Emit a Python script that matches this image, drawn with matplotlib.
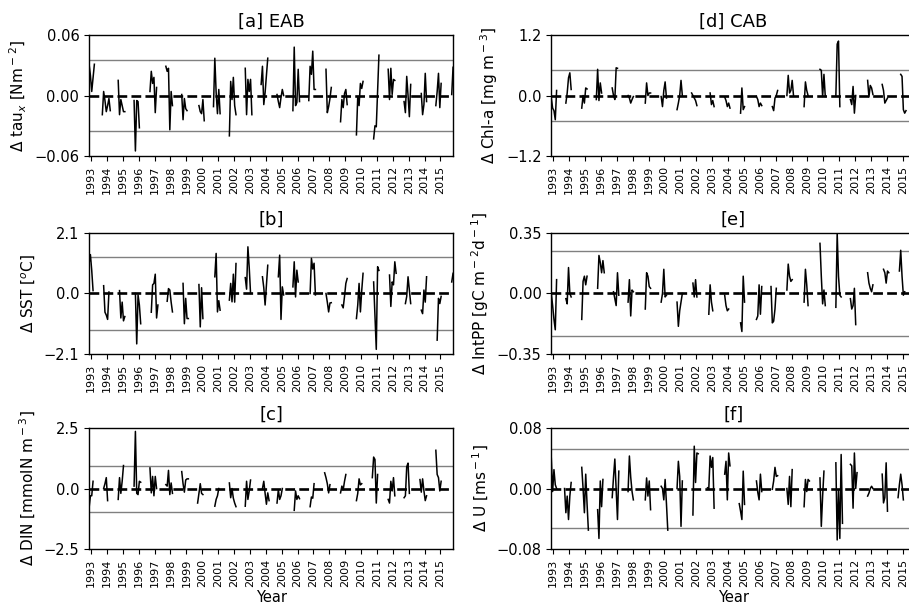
import numpy as np
import matplotlib
matplotlib.use("Agg")
import matplotlib.pyplot as plt

# %% data: monthly anomalies from Jan 1993, given as (start month, values) pieces
years = list(range(1993, 2016))
n_months = 276

tau_x = [(0, [0.031, 0.02, 0.004, 0.018, 0.031]),
         (10, [-0.019, 0.004, -0.005, -0.016, -0.01, -0.003, -0.015]),
         (22, [0.015, -0.019, -0.004, -0.01, -0.016, -0.016]),
         (34, [-0.005, -0.055, -0.005, -0.006, -0.032]),
         (46, [0.004, 0.024, 0.012, 0.018, -0.017, 0.008]),
         (58, [0.029, 0.024, 0.027, -0.034, 0.004, -0.01]),
         (70, [0.001, -0.024, -0.003, -0.013, -0.015]),
         (83, [-0.01, -0.016, -0.018, -0.004, -0.025]),
         (94, [-0.011, 0.037, 0.003, -0.018, 0.006, -0.018]),
         (106, [-0.04, 0.014, -0.004, 0.018, -0.01, -0.019]),
         (118, [0.027, -0.019, 0.016, 0.004, 0.016, -0.019]),
         (130, [0.011, 0.029, -0.009, 0.003, 0.02, 0.037]),
         (142, [0.001, -0.006, -0.012, -0.002, 0.006, 0.0]),
         (154, [-0.015, 0.048, -0.01, -0.007, 0.026, -0.006]),
         (166, [-0.005, 0.029, 0.021, 0.044, 0.006, 0.006]),
         (179, [0.026, -0.017, -0.011, -0.003, 0.008]),
         (190, [-0.026, -0.004, -0.012, 0.002, 0.006, -0.009]),
         (202, [-0.039, -0.001, -0.01, 0.012, 0.007, 0.014]),
         (215, [-0.043, -0.03, -0.031, 0.005, 0.04]),
         (226, [0.026, -0.004, 0.027, 0.001, 0.016, 0.015]),
         (238, [-0.006, -0.017, 0.019, 0.0, -0.021, 0.011]),
         (251, [0.002, -0.019, -0.009, 0.022, -0.006]),
         (262, [-0.01, 0.004, 0.022, -0.012, 0.012]),
         (274, [0.001, 0.028])]

sst = [(0, [1.05, 1.35, 0.8, 0.1]),
       (11, [0.27, -0.65, -0.75, -0.9, 0.05]),
       (23, [0.1, -0.85, -0.3, -0.95, -0.8]),
       (35, [0.0, -1.75, -0.05, -0.4, -1.05]),
       (47, [-0.65, 0.3, 0.35, 0.67, -0.85, -0.4]),
       (59, [-0.27, 0.17, 0.12, -0.3, -0.64]),
       (71, [0.35, -1.05, -0.17, -0.87, -0.87]),
       (83, [0.31, -1.16, 0.2, -0.87]),
       (95, [0.58, 1.39, -0.64, -0.25, -0.58]),
       (106, [-0.23, 0.35, -0.29, 0.67, -0.3, 1.04]),
       (118, [0.55, 0.15, 1.62, 0.9, 0.0]),
       (131, [0.58, 0.2, -0.4, 0.3, 0.98]),
       (143, [0.58, 1.33, -0.9, 0.23, -0.05]),
       (154, [0.23, 1.1, -0.12, 0.81, 0.4]),
       (167, [0.0, 1.22, 0.85, 1.05, -0.05]),
       (179, [0.0, -0.3, -0.64, -0.33, -0.32]),
       (191, [-0.4, -0.5, -0.1, 0.35, 0.52]),
       (202, [-0.87, -0.4, 0.35, -0.64, 0.1, 0.7]),
       (215, [0.4, -0.8, -1.94, 0.93, 0.8]),
       (227, [0.64, -0.45, 0.4, 0.3, 1.1, 0.7]),
       (239, [-0.35, -0.1, 0.58, 0.1, -0.35]),
       (251, [-0.58, -0.7, 0.12, -0.3, 0.58]),
       (263, [-1.62, -0.17, -0.35, -0.1]),
       (274, [0.4, 0.7])]

din = [(0, [-0.8, -0.3, -0.3, 0.3]),
       (11, [0.0, 0.2, 0.45, -0.5]),
       (22, [-0.45, 0.45, -0.2, 0.3, 0.95]),
       (34, [0.1, 2.36, -0.2, -0.25, 0.3, 0.26]),
       (46, [0.85, -0.18, 0.5, -0.3, 0.5, 0.0]),
       (58, [0.16, 0.1, 0.75, -0.25, 0.23, -0.2]),
       (70, [0.7, 0.2, -0.15, 0.35, 0.4, 0.4]),
       (82, [-0.6, -0.2, 0.2, -0.2, -0.25]),
       (95, [-0.73, -0.45, -0.3, 0.0]),
       (106, [0.23, -0.38, 0.0, -0.4, -0.6, -0.75]),
       (118, [-0.73, 0.3, -0.45, -0.1, 0.35]),
       (131, [0.0, 0.3, -0.2, -0.65, -0.18, -0.5]),
       (142, [-0.6, -0.05, -0.45, -0.3, 0.0]),
       (155, [-0.9, -0.1, -0.45, -0.3, -0.42]),
       (167, [-0.75, -0.35, -0.4, 0.2]),
       (178, [0.65, 0.45, 0.2, -0.18, 0.16]),
       (190, [-0.18, 0.1, -0.05, 0.3, 0.58]),
       (202, [-0.5, -0.2, 0.4, 0.15, 0.2]),
       (214, [0.45, 1.3, 1.2, -0.6, 0.58]),
       (226, [-0.45, -0.6, 0.3, -0.1, 0.45, -0.3]),
       (238, [-0.38, -0.3, 0.9, 1.05, -0.2]),
       (250, [0.37, -0.15, 0.4, -0.1, -0.5, -0.3]),
       (262, [1.58, 0.58, 0.45, -0.1, 0.3])]

chl = [(0, [-0.05, -0.25, -0.3, -0.48, 0.1]),
       (11, [-0.15, 0.05, 0.35, 0.45, 0.12]),
       (23, [-0.25, 0.0, -0.15, 0.15, 0.13]),
       (34, [-0.08, 0.52, -0.1, 0.25, 0.05]),
       (46, [0.15, 0.0, -0.08, 0.55, 0.54]),
       (58, [0.0, -0.05, -0.15, -0.08, -0.02]),
       (71, [-0.15, 0.25, 0.0, 0.05, 0.05]),
       (83, [-0.02, -0.22, 0.1, 0.27, -0.05]),
       (95, [-0.28, -0.15, 0.0, 0.3, 0.0]),
       (106, [0.05, 0.0, -0.05, -0.1, -0.2]),
       (120, [0.05, -0.18, -0.1, -0.22]),
       (131, [-0.03, -0.1, -0.22, -0.15, -0.25]),
       (143, [-0.35, 0.15, -0.28, -0.22]),
       (155, [-0.02, -0.08, -0.22, -0.15, -0.2]),
       (167, [-0.22, -0.3, -0.05, 0.0, 0.1]),
       (178, [0.0, 0.4, 0.05, 0.1, 0.3, 0.0]),
       (191, [-0.22, 0.27, 0.1, 0.0]),
       (203, [0.52, 0.5, -0.02, 0.42, -0.02]),
       (215, [0.0, 1.02, 1.08, -0.22]),
       (226, [-0.08, -0.18, 0.18, -0.35, 0.0]),
       (239, [0.3, -0.03, 0.2, 0.15, 0.02]),
       (250, [0.22, 0.1, -0.15, -0.1, -0.05]),
       (264, [0.42, 0.38, -0.28, -0.35, -0.3])]

intpp = [(0, [0.0, -0.07, -0.15, -0.21, 0.08]),
         (11, [-0.03, -0.06, 0.15, 0.0, -0.02]),
         (23, [-0.15, 0.07, 0.1, 0.05, 0.1]),
         (35, [0.03, 0.22, 0.18, 0.12, 0.19, 0.12]),
         (47, [0.01, -0.03, -0.07, 0.12, -0.01]),
         (58, [-0.05, 0.08, -0.13, 0.02, 0.01]),
         (71, [-0.09, 0.12, 0.1, 0.04, 0.03]),
         (83, [-0.05, 0.0, 0.14, -0.02, -0.01]),
         (95, [-0.05, -0.19, -0.1, -0.05, 0.0]),
         (107, [0.06, -0.02, 0.08, -0.02]),
         (119, [-0.12, 0.05, -0.05, -0.1]),
         (131, [-0.01, -0.07, -0.1, -0.09]),
         (143, [-0.17, -0.22, 0.1, -0.05]),
         (155, [-0.15, -0.13, 0.05, -0.12, 0.04]),
         (166, [0.04, -0.17, -0.16, -0.09, 0.03]),
         (178, [0.02, 0.17, 0.1, 0.07, 0.08]),
         (191, [-0.05, 0.14, 0.05, -0.07]),
         (203, [0.29, 0.1, -0.06, 0.02, -0.07]),
         (215, [-0.08, 0.35, 0.1, -0.01, -0.02]),
         (226, [-0.03, -0.09, -0.07, 0.03, -0.18]),
         (239, [0.12, 0.06, 0.03, 0.01, 0.05]),
         (251, [0.14, 0.12, 0.06, 0.13, 0.12]),
         (263, [0.13, 0.25, 0.1, -0.01, 0.01])]

u = [(0, [0.04, -0.004, 0.025, 0.005, 0.0]),
     (10, [0.0, -0.032, -0.01, -0.041, -0.01, 0.008]),
     (23, [0.028, 0.0, -0.032, 0.019, -0.02, -0.055]),
     (35, [-0.028, -0.066, 0.01, -0.024, 0.012]),
     (46, [-0.012, 0.015, 0.039, 0.0, -0.041, 0.023]),
     (58, [-0.004, 0.043, 0.015, -0.004, -0.015]),
     (71, [-0.015, 0.014, -0.01, 0.01, -0.028]),
     (83, [0.003, 0.0, -0.015, 0.012, -0.02, -0.055]),
     (95, [0.0, 0.036, 0.016, -0.05, 0.01]),
     (107, [-0.035, 0.056, 0.008, 0.047, 0.046]),
     (118, [0.001, 0.0, 0.043, 0.028, 0.041, -0.026]),
     (131, [0.019, 0.036, -0.015, 0.047, 0.03]),
     (142, [-0.02, -0.03, -0.041, 0.023, -0.021]),
     (155, [0.01, -0.005, -0.015, 0.019, -0.004]),
     (167, [-0.001, 0.01, 0.028, 0.016, 0.017]),
     (178, [0.0, -0.021, 0.016, -0.024, 0.025]),
     (191, [-0.024, 0.012, -0.004, 0.012, 0.01]),
     (203, [0.014, -0.05, -0.01, 0.023]),
     (215, [0.034, -0.068, -0.002, -0.066, 0.045, -0.046]),
     (226, [0.032, 0.03, -0.026, 0.047, 0.0, 0.021]),
     (239, [-0.01, -0.006, 0.0, 0.003, 0.0]),
     (250, [0.019, -0.019, -0.012, 0.034, -0.03]),
     (262, [-0.012, 0.005, 0.019, 0.005, -0.015])]

# y limits and +/- threshold lines
ylims = [0.06, 2.1, 2.5, 1.2, 0.35, 0.08]
thresh = [0.035, 1.27, 0.95, 0.5, 0.245, 0.052]
titles = ["[a] EAB", "[b]", "[c]", "[d] CAB", "[e]", "[f]"]
ylabels = [r"$\Delta$ tau$_x$ [Nm$^-$$^2$]", r"$\Delta$ SST [$^o$C]",
           r"$\Delta$ DIN [mmolN m$^-$$^3$]", r"$\Delta$ Chl-a [mg m$^-$$^3$]",
           r"$\Delta$ IntPP [gC m$^-$$^2$d$^-$$^1$]", r"$\Delta$ U [ms$^-$$^1$]"]
series = [tau_x, sst, din, chl, intpp, u]


def to_monthly(pieces):
    s = np.full(n_months, np.nan)
    for start, vals in pieces:
        s[start:start + len(vals)] = vals
    return s


# %% plot
fig = plt.figure(figsize=(9.09, 6.08), dpi=100)
lefts = [0.098, 0.6065]
bottoms = [0.7434, 0.4178, 0.097]
w, h = 0.4004, 0.199

months = np.arange(n_months)
for k in range(6):
    col, row = k // 3, k % 3
    ax = fig.add_axes([lefts[col], bottoms[row], w, h])
    ax.axhline(0, color="black", ls="--", lw=1.9, zorder=1)
    ax.axhline(thresh[k], color="gray", lw=1, zorder=1)
    ax.axhline(-thresh[k], color="gray", lw=1, zorder=1)
    ax.plot(months, to_monthly(series[k]), color="black", lw=1.1, zorder=2)
    ax.set_xlim(0, n_months - 1)
    ax.set_ylim(-ylims[k], ylims[k])
    ax.set_yticks([-ylims[k], 0, ylims[k]])
    ax.set_xticks(np.arange(len(years)) * 12 + 1.5)
    ax.set_xticklabels([str(y) for y in years], rotation=90, fontsize=8)
    ax.tick_params(axis="y", labelsize=10.5)
    ax.set_title(titles[k], fontsize=13)
    ax.set_ylabel(ylabels[k], fontsize=11)
    for sp in ax.spines.values():
        sp.set_linewidth(1.0)
    if row == 2:
        ax.set_xlabel("Year", fontsize=10.5, labelpad=2)

fig.savefig("out.png", dpi=100)
